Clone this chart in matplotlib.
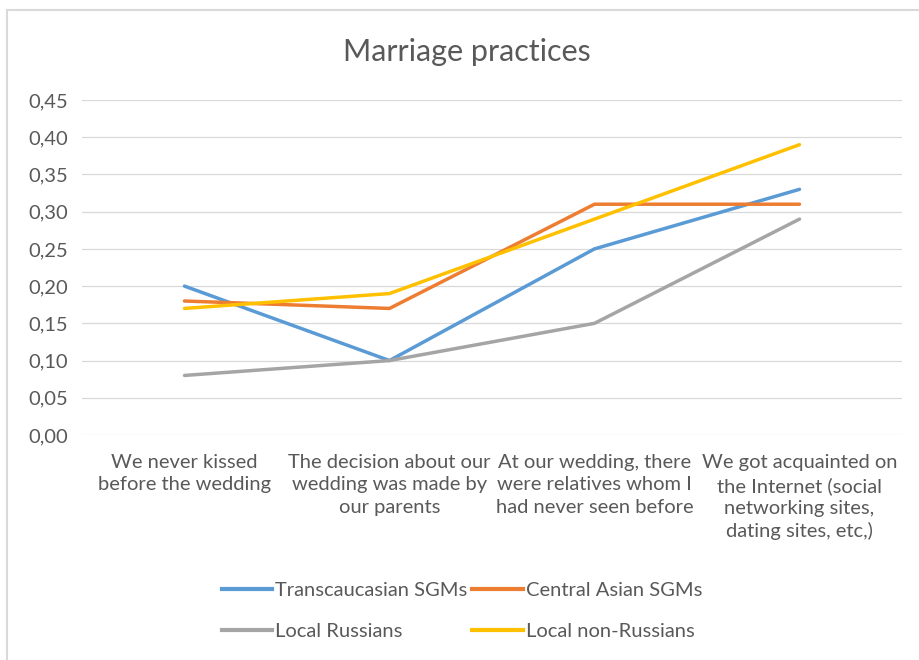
import matplotlib
matplotlib.use("Agg")
import matplotlib.pyplot as plt
from matplotlib.lines import Line2D

categories = [
    "We never kissed\nbefore the wedding",
    "The decision about our\nwedding was made by\nour parents",
    "At our wedding, there\nwere relatives whom I\nhad never seen before",
    "We got acquainted on\nthe Internet (social\nnetworking sites,\ndating sites, etc,)",
]
series_names = ["Transcaucasian SGMs", "Central Asian SGMs", "Local Russians", "Local non-Russians"]
transcaucasian = [0.20, 0.10, 0.25, 0.33]
central_asian = [0.18, 0.17, 0.31, 0.31]
local_russians = [0.08, 0.10, 0.15, 0.29]
local_non_russians = [0.17, 0.19, 0.29, 0.39]
y_ticks = [0.00, 0.05, 0.10, 0.15, 0.20, 0.25, 0.30, 0.35, 0.40, 0.45]
colors = ["#5B9BD5", "#ED7D31", "#A5A5A5", "#FFC000"]

plt.rcParams['font.family'] = ['Lato', 'DejaVu Sans']
txt = "#595959"

fig = plt.figure(figsize=(9.2, 6.6), dpi=100)
W, H = 920, 660
ax = fig.add_axes([82 / W, 1 - 435 / H, (902 - 82) / W, (435 - 100) / H])

x = list(range(len(categories)))
all_series = [transcaucasian, central_asian, local_russians, local_non_russians]
for vals, name, c in zip(all_series, series_names, colors):
    ax.plot(x, vals, color=c, lw=2.5, label=name, solid_capstyle='round', solid_joinstyle='round')

ax.set_xlim(-0.5, 3.5)
ax.set_ylim(0, 0.45)
ax.set_yticks(y_ticks)
ax.set_yticklabels([f"{v:.2f}".replace(".", ",") for v in y_ticks])
ax.set_xticks(x)
ax.set_xticklabels(categories, linespacing=1.36)
ax.tick_params(axis='both', length=0, colors=txt, labelsize=14.5)
ax.tick_params(axis='y', pad=10)
ax.tick_params(axis='x', pad=14)
ax.grid(axis='y', color="#D9D9D9", lw=0.9)
ax.set_axisbelow(True)
for s in ax.spines.values():
    s.set_visible(False)

fig.text(467 / W, 1 - 52 / H, "Marriage practices", ha='center', va='center', fontsize=22, color=txt)

# legend filled column-wise: order so rows read T, C / LR, LNR
order = [0, 2, 1, 3]
handles = [Line2D([0], [0], color=colors[i], lw=3) for i in order]
labels = [series_names[i] for i in order]
leg = fig.legend(handles, labels, loc='center', bbox_to_anchor=(462 / W, 1 - 611 / H), ncol=2,
                 frameon=False, fontsize=14.5, handlelength=2.5, handletextpad=0.15, columnspacing=0.25,
                 labelspacing=1.2, labelcolor=txt)

# chart border (partially visible)
fig.add_artist(Line2D([7 / W, 1.0], [1 - 10 / H, 1 - 10 / H], color="#D9D9D9", lw=1.5, transform=fig.transFigure))
fig.add_artist(Line2D([7 / W, 7 / W], [0, 1 - 10 / H], color="#D9D9D9", lw=1.5, transform=fig.transFigure))

fig.savefig("out.png", dpi=100, facecolor="white")
